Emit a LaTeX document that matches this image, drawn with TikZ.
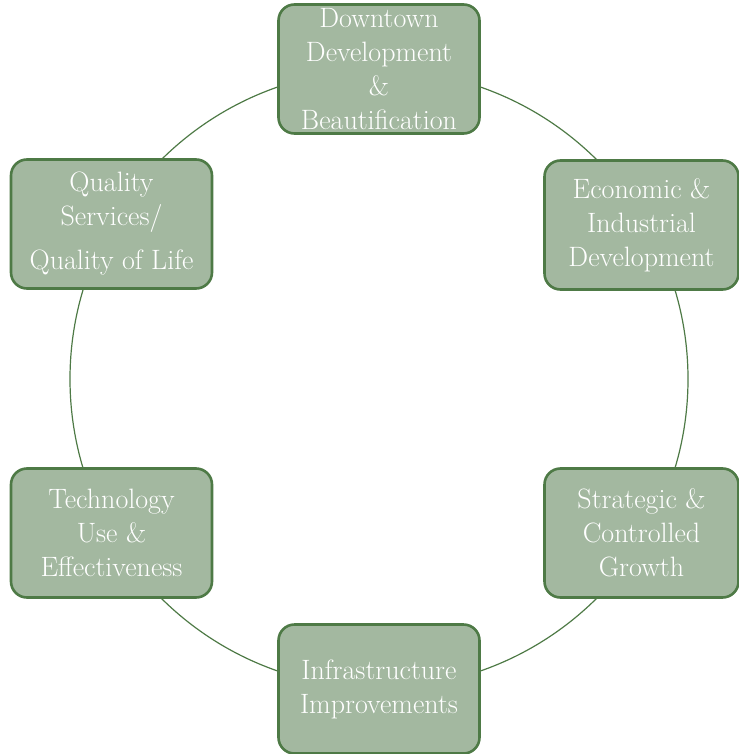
\documentclass[tikz,border=0pt]{standalone}
\definecolor{boxfill}{RGB}{163,184,160}
\definecolor{boxline}{RGB}{78,122,70}
\begin{document}
\begin{tikzpicture}[x=1pt,y=-1pt,
  cyclebox/.style={draw=boxline, line width=2.6pt, fill=boxfill, rounded corners=16pt,
    minimum width=201pt, minimum height=129pt, align=center, inner sep=0pt,
    text=white, font=\fontsize{28}{34}\selectfont},
  ring/.style={draw=boxline, line width=1.2pt}]
\useasboundingbox (0,0) rectangle (738,754);
\coordinate (c) at (379,379);
\draw[ring] (c) circle[radius=309];
\node[cyclebox] (top) at (379,69) {Downtown\\Development\\\&\\Beautification};
\node[cyclebox, minimum width=194pt] (ur) at (641.5,225) {Economic \&\\Industrial\\Development};
\node[cyclebox, minimum width=194pt] (lr) at (641.5,533) {Strategic \&\\Controlled\\Growth};
\node[cyclebox] (bot) at (379,689) {Infrastructure\\Improvements};
\node[cyclebox] (ll) at (111.5,533) {Technology\\Use \&\\Effectiveness};
\node[cyclebox] (ul) at (111.5,224) {Quality\\Services/\\[10pt]Quality of Life};
\end{tikzpicture}
\end{document}
